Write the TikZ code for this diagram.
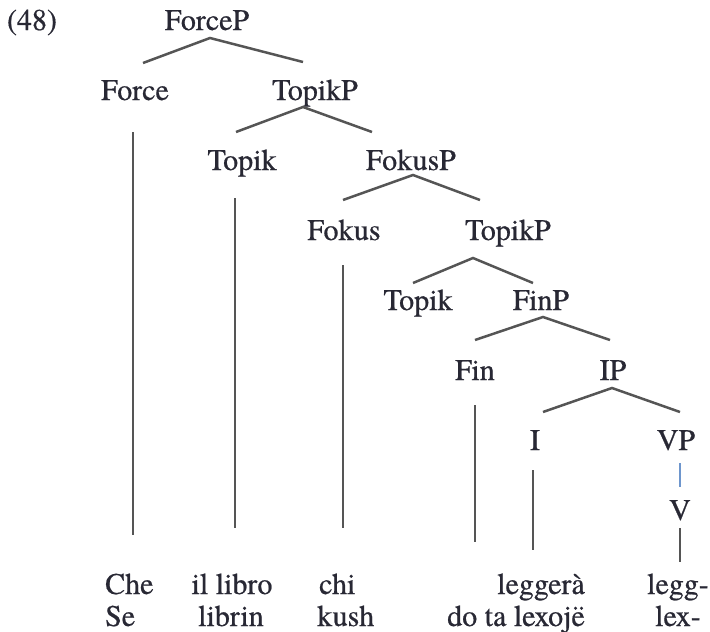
\documentclass[tikz,border=0pt]{standalone}
\usepackage{fontspec}
\newfontfamily\tms[FakeBold=0.6]{TeX Gyre Termes}
\definecolor{txt}{RGB}{40,40,52}
\definecolor{ln}{RGB}{85,85,85}
\definecolor{bl}{RGB}{110,150,205}
\begin{document}
\begin{tikzpicture}[x=1pt,y=-1pt,
  lab/.style={font=\tms\fontsize{30}{32}\selectfont, text=txt, inner sep=0pt, anchor=base},
  br/.style={draw=ln, line width=2.5pt},
  blbr/.style={draw=bl, line width=2.2pt}]
\useasboundingbox (0,0) rectangle (710,632);
% labels
\node[lab] (n48) at (32,30) {(48)};
\node[lab] (forcep) at (207,30) {ForceP};
\node[lab] (force) at (135,100) {Force};
\node[lab] (topikp1) at (315,100) {TopikP};
\node[lab] (topik1) at (242,170) {Topik};
\node[lab] (fokusp) at (411,170) {FokusP};
\node[lab] (fokus) at (344,240) {Fokus};
\node[lab] (topikp2) at (508,240) {TopikP};
\node[lab] (topik2) at (418,310) {Topik};
\node[lab] (finp) at (541,310) {FinP};
\node[lab] (fin) at (475,380) {Fin};
\node[lab] (ip) at (613,380) {IP};
\node[lab] (i) at (535,450) {I};
\node[lab] (vp) at (676,450) {VP};
\node[lab] (v) at (680,520) {V};
% words
\node[lab, anchor=base west] (che) at (105,594) {Che};
\node[lab, anchor=base west] (se) at (105,626) {Se};
\node[lab] (illibro) at (232,594) {il libro};
\node[lab] (librin) at (231,626) {librin};
\node[lab, anchor=base west] (chi) at (319,594) {chi};
\node[lab, anchor=base west] (kush) at (317,626) {kush};
\node[lab, anchor=base east] (leggera) at (585,594) {leggerà};
\node[lab, anchor=base east] (dotalexoje) at (585,626) {do ta lexojë};
\node[lab] (legg) at (678,594) {legg-};
\node[lab] (lex) at (678,626) {lex-};
% branch points
\coordinate (forcep-a) at (210,38);  \coordinate (forcep-l) at (143,63);  \coordinate (forcep-r) at (303,62);
\coordinate (topikp1-a) at (303,107); \coordinate (topikp1-l) at (236,132); \coordinate (topikp1-r) at (372,132);
\coordinate (fokusp-a) at (413,175); \coordinate (fokusp-l) at (343,200); \coordinate (fokusp-r) at (480,200);
\coordinate (topikp2-a) at (473,258); \coordinate (topikp2-l) at (413,283); \coordinate (topikp2-r) at (533,283);
\coordinate (finp-a) at (543,317); \coordinate (finp-l) at (475,340); \coordinate (finp-r) at (610,340);
\coordinate (ip-a) at (612,388); \coordinate (ip-l) at (543,412); \coordinate (ip-r) at (680,412);
\coordinate (force-t) at (133,132); \coordinate (force-b) at (133,535);
\coordinate (topik1-t) at (235,198); \coordinate (topik1-b) at (235,528);
\coordinate (fokus-t) at (343,265); \coordinate (fokus-b) at (343,528);
\coordinate (fin-t) at (475,405); \coordinate (fin-b) at (475,542);
\coordinate (i-t) at (533,470); \coordinate (i-b) at (533,550);
\coordinate (vp-b) at (680,463); \coordinate (v-t) at (680,487);
\coordinate (v-b) at (680,528); \coordinate (legg-t) at (680,562);
% branches
\draw[br] (forcep-l) -- (forcep-a) -- (forcep-r);
\draw[br] (topikp1-l) -- (topikp1-a) -- (topikp1-r);
\draw[br] (fokusp-l) -- (fokusp-a) -- (fokusp-r);
\draw[br] (topikp2-l) -- (topikp2-a) -- (topikp2-r);
\draw[br] (finp-l) -- (finp-a) -- (finp-r);
\draw[br] (ip-l) -- (ip-a) -- (ip-r);
\draw[br] (force-t) -- (force-b);
\draw[br] (topik1-t) -- (topik1-b);
\draw[br] (fokus-t) -- (fokus-b);
\draw[br] (fin-t) -- (fin-b);
\draw[br] (i-t) -- (i-b);
\draw[blbr] (vp-b) -- (v-t);
\draw[br] (v-b) -- (legg-t);
\end{tikzpicture}
\end{document}
